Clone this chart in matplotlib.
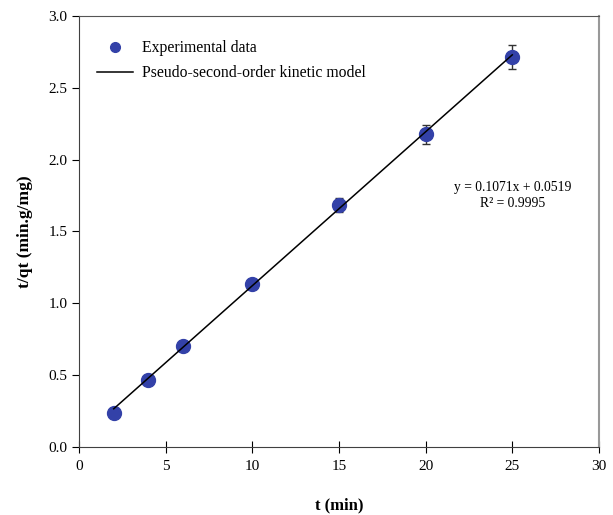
import numpy as np
import matplotlib.pyplot as plt

plt.rcParams['font.family'] = ['Liberation Serif', 'DejaVu Serif']

# data
t_min = [2, 4, 6, 10, 15, 20, 25]
t_over_qt = [0.237, 0.468, 0.705, 1.138, 1.684, 2.177, 2.716]
err = [0.02, 0.02, 0.02, 0.025, 0.05, 0.065, 0.085]
slope = 0.1071
intercept = 0.0519

fig = plt.figure(figsize=(6.13, 5.15), dpi=100)
ax = fig.add_axes([0.129, 0.132, 0.848, 0.837])

fit_x = np.array([t_min[0], t_min[-1]])
ax.plot(fit_x, slope * fit_x + intercept, color='black', lw=1.1,
        label='Pseudo-second-order kinetic model', zorder=3)
ax.errorbar(t_min, t_over_qt, yerr=err, fmt='o', color='#3341a8', ecolor='#333333',
            elinewidth=1, capsize=3, markersize=10, zorder=2)
ax.plot([], [], 'o', color='#3341a8', markersize=7, label='Experimental data')

ax.set_xlim(0, 30)
ax.set_ylim(0, 3.0)
ax.set_xticks(range(0, 31, 5))
ax.set_yticks(np.arange(0, 3.01, 0.5))
ax.yaxis.set_major_formatter(plt.FormatStrFormatter('%.1f'))
ax.tick_params(axis='x', direction='inout', length=8, labelsize=11, pad=5)
ax.tick_params(axis='y', direction='out', length=5, labelsize=11)

for s in ['left', 'bottom']:
    ax.spines[s].set_color('#404040')
ax.spines['top'].set_color('#555555')
ax.spines['right'].set_color('#999999')
ax.spines['right'].set_linewidth(1.5)

ax.set_xlabel('t (min)', fontsize=12, fontweight='bold', labelpad=18)
ax.set_ylabel('t/qt (min.g/mg)', fontsize=12.5, fontweight='bold', labelpad=11)

handles, labels = ax.get_legend_handles_labels()
ax.legend(handles[::-1], labels[::-1], loc='upper left', bbox_to_anchor=(0.008, 0.976),
          frameon=False, fontsize=11.3, handlelength=2.3, handletextpad=0.55,
          labelspacing=0.55)

ax.text(25.0, 1.75, 'y = 0.1071x + 0.0519\nR² = 0.9995', ha='center', va='center',
        fontsize=9.8, linespacing=1.25)

fig.savefig('out.png', dpi=100)
